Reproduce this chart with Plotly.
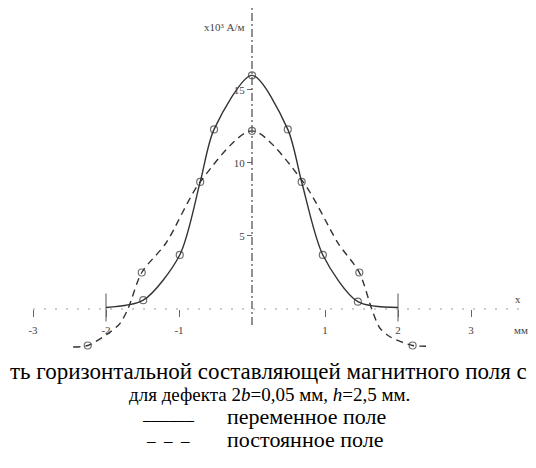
import plotly.graph_objects as go

# ---- data ----
# переменное поле (solid)
sol_x = [-2.0, -1.49, -0.99, -0.71, -0.52, 0.0, 0.49, 0.68, 0.97, 1.45, 2.0]
sol_y = [0.1, 0.6, 3.7, 8.7, 12.3, 16.0, 12.3, 8.7, 3.7, 0.5, 0.1]
sol_marked = [2, 1, 1, 1, 1, 1, 1, 1, 1, 1, 2]   # 2 = end bar, 1 = circle

# постоянное поле (dashed)
das_x = [-2.45, -2.25, -1.95, -1.81, -1.70, -1.51, -1.18, -0.71, 0.0, 0.70, 1.18, 1.47, 1.64, 1.75, 1.89, 2.20, 2.42]
das_y = [-2.6, -2.5, -1.6, -1.0, 0.0, 2.5, 4.5, 8.7, 12.2, 8.7, 4.5, 2.5, 0.0, -1.3, -1.9, -2.5, -2.55]
das_marked = [0, 1, 0, 0, 0, 1, 0, 0, 1, 0, 0, 1, 0, 0, 0, 1, 0]

x_ticks = [-3, -2, -1, 1, 2, 3]
x_ticktext = ["-3", "-2", "-1", "1", "2", "3"]
y_ticks = [5, 10, 15]
y_ticktext = ["5", "10", "15"]

y_title = "х10³ А/м"
x_name = "x"
x_unit = "мм"
caption1 = "ть горизонтальной составляющей магнитного поля с"
caption2 = "для дефекта 2<i>b</i>=0,05 мм, <i>h</i>=2,5 мм."
leg_solid_sym = "______"
leg_solid = "переменное поле"
leg_dash_sym = "_\u00a0\u00a0_\u00a0\u00a0_"
leg_dash = "постоянное поле"

# ---- layout geometry ----
W, H = 536, 468
xr = [-3.452, 3.890]
yr = [-10.89, 21.16]
x_axis_pos = (0 - yr[0]) / (yr[1] - yr[0])
y_axis_pos = (0 - xr[0]) / (xr[1] - xr[0])

LINE = "#333333"
SERIF = "Liberation Serif, Times New Roman, serif"

fig = go.Figure()

fig.add_trace(go.Scatter(
    x=sol_x, y=sol_y, mode="lines+markers",
    line=dict(color=LINE, width=1.4, shape="spline", smoothing=0.8),
    marker=dict(
        symbol=["line-ns-open" if m == 2 else "circle-open" for m in sol_marked],
        size=[20 if m == 2 else 7 for m in sol_marked],
        color=LINE, line=dict(color=LINE, width=1.2)),
    showlegend=False, hoverinfo="skip"))

fig.add_trace(go.Scatter(
    x=das_x, y=das_y, mode="lines+markers",
    line=dict(color=LINE, width=1.4, shape="spline", smoothing=0.8, dash="7px,5px"),
    marker=dict(symbol="circle-open",
                size=[7 if m else 0 for m in das_marked],
                color=LINE, line=dict(color=LINE, width=1.2)),
    showlegend=False, hoverinfo="skip"))

# axis lines (dash-dot vertical, dotted horizontal)
fig.add_shape(type="line", x0=0, x1=0, y0=-1.1, y1=20.8, xref="x", yref="y",
              line=dict(color="#555555", width=1.3, dash="8px,3px,2px,3px"))
fig.add_shape(type="line", x0=-3.0, x1=3.67, y0=0, y1=0, xref="x", yref="y",
              line=dict(color="#999999", width=1.2, dash="2px,9px"))

fig.update_layout(
    width=W, height=H, autosize=False,
    margin=dict(l=0, r=0, t=0, b=0),
    paper_bgcolor="white", plot_bgcolor="white",
    xaxis=dict(domain=[0, 1], range=xr, anchor="free", position=x_axis_pos,
               tickvals=x_ticks, ticktext=x_ticktext, ticks="outside", ticklen=7,
               tickcolor="#666666", tickwidth=1.2, ticklabelstandoff=4,
               tickfont=dict(family=SERIF, size=11, color="#444444"),
               showgrid=False, zeroline=False, showline=False),
    yaxis=dict(domain=[0, 1], range=yr, anchor="free", position=y_axis_pos,
               tickvals=y_ticks, ticktext=y_ticktext, ticks="outside", ticklen=5,
               tickcolor="#666666", tickwidth=1.2,
               tickfont=dict(family=SERIF, size=11, color="#444444"),
               showgrid=False, zeroline=False, showline=False),
    font=dict(family=SERIF),
)

ann = []
def add(text, x, y, size, xanchor="center", color="#000000", ref="paper"):
    ann.append(dict(text=text, x=x, y=y, xref=ref, yref=ref, showarrow=False,
                    xanchor=xanchor, yanchor="middle",
                    font=dict(family=SERIF, size=size, color=color)))

add(y_title, 247 / W, 1 - 27 / H, 11, xanchor="right", color="#444444")
add(x_name, 518 / W, 1 - 299 / H, 11, color="#444444")
add(x_unit, 521 / W, 1 - 330 / H, 11, color="#444444")
add(caption1, 268 / W, 1 - 371 / H, 23)
add(caption2, 269 / W, 1 - 394 / H, 19)
add(leg_solid_sym, 168 / W, 1 - 414 / H, 17)
add(leg_solid, 225 / W, 1 - 416 / H, 22, xanchor="left")
add(leg_dash_sym, 168 / W, 1 - 435 / H, 17)
add(leg_dash, 225 / W, 1 - 439 / H, 22, xanchor="left")
fig.update_layout(annotations=ann)

fig.write_html("out.html", config={"displayModeBar": False},
               post_script="document.body.style.margin='0px';")
